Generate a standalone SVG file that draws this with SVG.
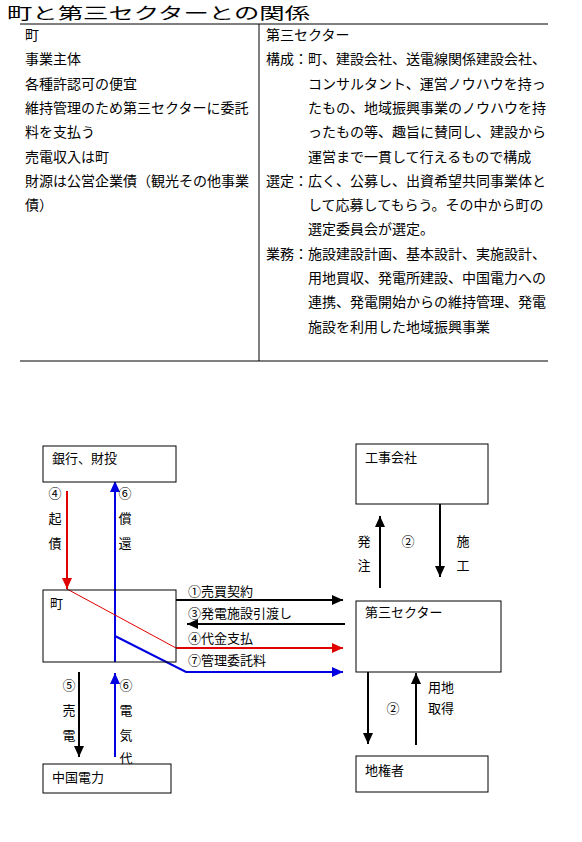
<svg xmlns="http://www.w3.org/2000/svg" width="582" height="842" viewBox="0 0 582 842">
<style>
text{font-family:"Noto Sans CJK JP","Noto Sans CJK SC",sans-serif;fill:#000}
.t{font-size:14px}
.d{font-size:13px}
.c{text-anchor:middle}
.box{fill:#fff;stroke:#000;stroke-width:1}
.rule{stroke:#000;stroke-width:1;fill:none}
.k{stroke:#000;stroke-width:2;fill:none}
.r{stroke:#e00000;stroke-width:2;fill:none}
.b{stroke:#0000e0;stroke-width:2;fill:none}
</style>
<defs>
<marker id="ak" markerUnits="userSpaceOnUse" markerWidth="12" markerHeight="10" refX="11" refY="5" orient="auto"><path d="M0,0 L11,5 L0,10 Z" fill="#000"/></marker>
<marker id="ar" markerUnits="userSpaceOnUse" markerWidth="12" markerHeight="10" refX="11" refY="5" orient="auto"><path d="M0,0 L11,5 L0,10 Z" fill="#e00000"/></marker>
<marker id="ab" markerUnits="userSpaceOnUse" markerWidth="12" markerHeight="10" refX="11" refY="5" orient="auto"><path d="M0,0 L11,5 L0,10 Z" fill="#0000e0"/></marker>
</defs>
<rect width="582" height="842" fill="#fff"/>

<text x="7" y="19" style="font-size:16px" textLength="303" lengthAdjust="spacingAndGlyphs">町と第三セクターとの関係</text>

<g id="table">
<line class="rule" x1="20" y1="24" x2="548" y2="24"/>
<line class="rule" x1="259" y1="24" x2="259" y2="361"/>
<line class="rule" x1="20" y1="361" x2="548" y2="361"/>
<g class="t">
<text x="25" y="40">町</text>
<text x="25" y="64">事業主体</text>
<text x="25" y="89">各種許認可の便宜</text>
<text x="25" y="113">維持管理のため第三セクターに委託</text>
<text x="25" y="137">料を支払う</text>
<text x="25" y="162">売電収入は町</text>
<text x="25" y="186">財源は公営企業債（観光その他事業</text>
<text x="25" y="210">債）</text>
<text x="266" y="40">第三セクター</text>
<text x="266" y="64">構成：町、建設会社、送電線関係建設会社、</text>
<text x="308" y="89">コンサルタント、運営ノウハウを持っ</text>
<text x="308" y="113">たもの、地域振興事業のノウハウを持</text>
<text x="308" y="137">ったもの等、趣旨に賛同し、建設から</text>
<text x="308" y="162">運営まで一貫して行えるもので構成</text>
<text x="266" y="186">選定：広く、公募し、出資希望共同事業体と</text>
<text x="308" y="210">して応募してもらう。その中から町の</text>
<text x="308" y="234">選定委員会が選定。</text>
<text x="266" y="259">業務：施設建設計画、基本設計、実施設計、</text>
<text x="308" y="283">用地買収、発電所建設、中国電力への</text>
<text x="308" y="307">連携、発電開始からの維持管理、発電</text>
<text x="308" y="332">施設を利用した地域振興事業</text>
</g>
</g>

<g id="connectors">
<line class="r" x1="67" y1="491" x2="67" y2="589" marker-end="url(#ar)"/>
<line class="b" x1="115" y1="662" x2="115" y2="481" marker-end="url(#ab)"/>
<line stroke="#e00000" stroke-width="1" x1="67" y1="589" x2="176" y2="648"/>
<line class="r" x1="176" y1="648" x2="343" y2="648" marker-end="url(#ar)"/>
<polyline class="b" points="115,636 186,672 343,672" marker-end="url(#ab)"/>
<line class="k" x1="176" y1="600" x2="343" y2="600" marker-end="url(#ak)"/>
<line class="k" x1="345" y1="624" x2="187" y2="624" marker-end="url(#ak)"/>
<line class="k" x1="380" y1="588" x2="380" y2="516" marker-end="url(#ak)"/>
<line class="k" x1="440" y1="504" x2="440" y2="577" marker-end="url(#ak)"/>
<line class="k" x1="368" y1="672" x2="368" y2="744" marker-end="url(#ak)"/>
<line class="k" x1="416" y1="745" x2="416" y2="673" marker-end="url(#ak)"/>
<line class="k" x1="79" y1="672" x2="79" y2="757" marker-end="url(#ak)"/>
<line class="b" x1="115" y1="757" x2="115" y2="673" marker-end="url(#ab)"/>
<g class="d">
<text class="c" x="55" y="498">④</text>
<text class="c" x="55" y="523">起</text>
<text class="c" x="55" y="548">債</text>
<text class="c" x="125" y="498">⑥</text>
<text class="c" x="125" y="523">償</text>
<text class="c" x="125" y="548">還</text>
<text x="188" y="596">①売買契約</text>
<text x="188" y="618">③発電施設引渡し</text>
<text x="188" y="643">④代金支払</text>
<text x="188" y="665">⑦管理委託料</text>
<text class="c" x="364" y="546">発</text>
<text class="c" x="364" y="570">注</text>
<text class="c" x="408" y="546">②</text>
<text class="c" x="463" y="546">施</text>
<text class="c" x="463" y="570">工</text>
<text class="c" x="393" y="713">②</text>
<text x="428" y="692">用地</text>
<text x="428" y="713">取得</text>
<text class="c" x="69" y="690">⑤</text>
<text class="c" x="69" y="715">売</text>
<text class="c" x="69" y="740">電</text>
<text class="c" x="126" y="690">⑥</text>
<text class="c" x="126" y="715">電</text>
<text class="c" x="126" y="740">気</text>
<text class="c" x="126" y="763">代</text>
</g>
</g>

<g id="node-bank"><rect class="box" x="43" y="446" width="133" height="36"/><text class="d" x="52" y="463">銀行、財投</text></g>
<g id="node-contractor"><rect class="box" x="356" y="444" width="132" height="60"/><text class="d" x="365" y="462">工事会社</text></g>
<g id="node-town"><rect class="box" x="43" y="590" width="133" height="72" fill="none" style="fill:none"/><text class="d" x="50" y="608">町</text></g>
<g id="node-sector"><rect class="box" x="356" y="601" width="145" height="71"/><text class="d" x="365" y="617">第三セクター</text></g>
<g id="node-chugoku"><rect class="box" x="43" y="764" width="128" height="29"/><text class="d" x="52" y="782">中国電力</text></g>
<g id="node-landowner"><rect class="box" x="356" y="756" width="132" height="36"/><text class="d" x="365" y="775">地権者</text></g>
</svg>
